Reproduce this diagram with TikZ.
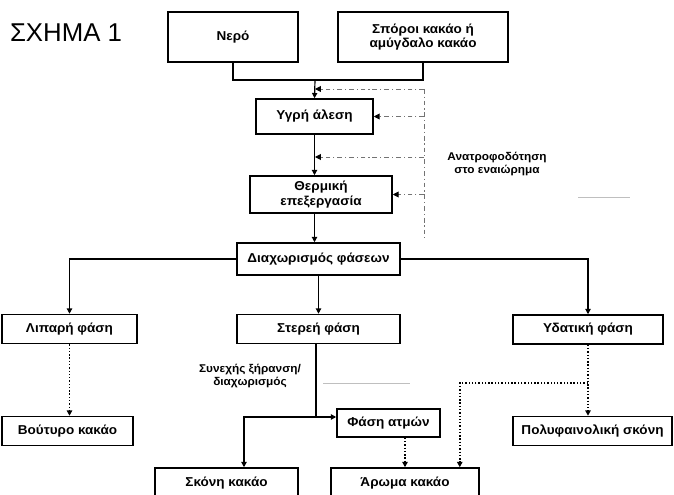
\documentclass[tikz,border=0pt]{standalone}
\usepackage{fontspec}
\setmainfont{Liberation Sans}
\newfontfamily\boxfont{Liberation Sans}[FakeStretch=1.05]
\usetikzlibrary{arrows.meta, positioning, calc}

\begin{document}
\begin{tikzpicture}[x=0.3mm, y=-0.3mm,
    box/.style={draw, line width=1.3pt, inner sep=2pt, align=center,
        font=\boxfont\bfseries\fontsize{11}{12.5}\selectfont},
    lbl/.style={align=center, font=\boxfont\bfseries\fontsize{9.6}{11.5}\selectfont},
    flow/.style={line width=1pt, -{Triangle[length=4.5pt, width=4.5pt]}},
    side/.style={draw=black!55, line width=0.8pt, dash pattern=on 4pt off 2.5pt on 1pt off 2.5pt,
        -{Triangle[length=5pt, width=5pt, color=black]}},
    dots/.style={line width=1.4pt, dash pattern=on 1.2pt off 1.6pt, -{Triangle[length=4.5pt, width=4.5pt]}}]
    \useasboundingbox (0,0) rectangle (674,495);

    \node[font=\fontsize{22}{24}\selectfont] (title) at (66,33) {ΣΧΗΜΑ 1};

    % inputs and main line
    \node[box, minimum width=3.9cm, minimum height=1.5cm] (nero) at (233,37) {Νερό};
    \node[box, minimum width=5.1cm, minimum height=1.5cm] (sporoi) at (423,37) {Σπόροι κακάο ή\\αμύγδαλο κακάο};
    \node[box, minimum width=3.51cm, minimum height=1.05cm] (ygri) at (314.5,116.5) {Υγρή άλεση};
    \node[box, minimum width=4.26cm, minimum height=1.11cm] (thermiki) at (321,194.5) {Θερμική\\επεξεργασία};
    \node[box, minimum width=4.89cm, minimum height=0.96cm] (diax) at (318.5,259) {Διαχωρισμός φάσεων};

    % phases
    \node[box, minimum width=4.05cm, minimum height=0.87cm] (lipari) at (69.5,329) {Λιπαρή φάση};
    \node[box, minimum width=4.89cm, minimum height=0.87cm] (stereri) at (318.5,329) {Στερεή φάση};
    \node[box, minimum width=4.5cm, minimum height=0.87cm] (ydatiki) at (588,329.5) {Υδατική φάση};

    % products
    \node[box, minimum width=3.93cm, minimum height=0.87cm] (voutyro) at (67.5,431) {Βούτυρο κακάο};
    \node[box, minimum width=4.77cm, minimum height=0.87cm] (polyf) at (592.5,431) {Πολυφαινολική σκόνη};
    \node[box, minimum width=3.09cm, minimum height=0.84cm] (fasi) at (388.5,423) {Φάση ατμών};
    \node[box, minimum width=4.29cm, minimum height=0.9cm] (skoni) at (226.5,483) {Σκόνη κακάο};
    \node[box, minimum width=4.44cm, minimum height=0.9cm] (aroma) at (405,483) {Άρωμα κακάο};

    \node[lbl] (fbtext) at (497,164) {Ανατροφοδότηση\\στο εναιώρημα};
    \node[lbl] (drytext) at (250,376) {Συνεχής ξήρανση/\\διαχωρισμός};

    \coordinate (merge) at (315,80);
    \coordinate (fbtop) at (424,89);
    \coordinate (fbmid) at (424,157);
    \coordinate (fbbot) at (424,240);
    \coordinate (split) at (316,417);
    \coordinate (tap) at (588,383);
    \coordinate (skonin) at ($(skoni.north)+(17.5,0)$);
    \coordinate (aroman) at ($(aroma.north east)+(-20,0)$);

    \draw[line width=1pt] (nero.south) |- (merge) -| (sporoi.south);
    \draw[flow] (merge) -- (ygri.north);
    \draw[flow] (ygri.south) -- (ygri.south |- thermiki.north);
    \draw[flow] (ygri.south |- thermiki.south) -- (ygri.south |- diax.north);

    % feedback
    \draw[side, -] (fbtop) -- (fbbot);
    \draw[side] (fbtop) -- (fbtop -| merge);
    \draw[side] (fbtop |- ygri.east) -- (ygri.east);
    \draw[side] (fbmid) -- (fbmid -| merge);
    \draw[side] (fbtop |- thermiki.east) -- (thermiki.east);

    \draw[flow] (diax.west) -| (lipari.north);
    \draw[flow] (diax.east) -| (ydatiki.north);
    \draw[flow] (diax) -- (stereri);

    \draw[dots] (lipari.south) -- (lipari.south |- voutyro.north);
    \draw[dots] (ydatiki.south) -- (ydatiki.south |- polyf.north);
    \draw[dots] (tap) -| (aroman);
    \draw[dots] (aroma.north |- fasi.south) -- (aroma.north);

    \draw[line width=1pt] (split |- stereri.south) -- (split);
    \draw[flow] (split) -- (split -| fasi.west);
    \draw[flow] (split) -| (skonin);

    \draw[black!25, line width=0.6pt] (323,383) -- (410,383);
    \draw[black!25, line width=0.6pt] (578,197) -- (630,197);
\end{tikzpicture}
\end{document}
